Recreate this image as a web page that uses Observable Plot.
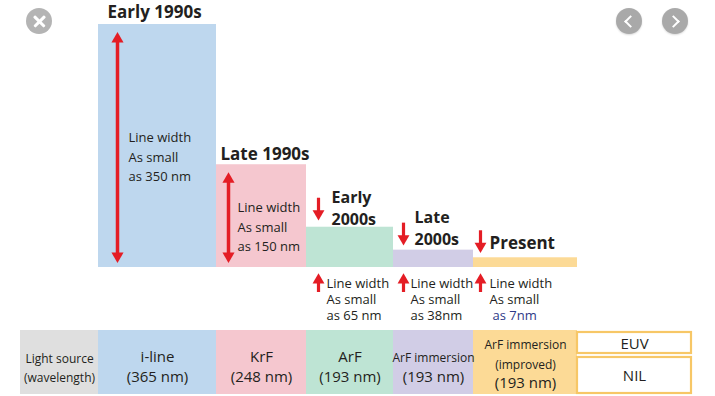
<!DOCTYPE html>
<html><head><meta charset="utf-8">
<script src="https://cdn.jsdelivr.net/npm/d3@7"></script>
<script src="https://cdn.jsdelivr.net/npm/@observablehq/plot@0.6"></script>
<style>
body{margin:0;background:#fff;}
#wrap{position:relative;width:715px;height:396px;overflow:hidden;font-family:"Open Sans",sans-serif;}
#wrap svg{display:block;}
.btn{position:absolute;width:26px;height:26px;border-radius:50%;background:#b4b4b4;}
.nav{background:#a9a9a9;box-shadow:0 1px 2px rgba(0,0,0,0.15);}
.xbar{position:absolute;left:5.5px;top:11.75px;width:15px;height:2.5px;background:#fff;border-radius:1px;}
.chev{position:absolute;width:7px;height:7px;border-top:2.5px solid #fff;border-left:2.5px solid #fff;top:8.5px;}
</style></head><body><div id="wrap"></div>
<script>
// ---- data ----
const periods = ["Early 1990s", "Late 1990s", "Early\n2000s", "Late\n2000s", "Present"];
const barHeights = [350, 148, 58, 25, 14];          // drawn bar heights (graphic units)
const sizeLabels = ["as 350 nm", "as 150 nm", "as 65 nm", "as 38nm", "as 7nm"];
const lightSources = ["i-line", "KrF", "ArF", "ArF immersion", "ArF immersion\n(improved)"];
const wavelengths = ["(365 nm)", "(248 nm)", "(193 nm)", "(193 nm)", "(193 nm)"];
const nextGen = ["EUV", "NIL"];
const headerLabel = "Light source\n(wavelength)";

// ---- layout & style ----
const W = 715, baseY = 267, topY = 24;
const pv = 350 / (baseY - topY);                     // value units per pixel
const edges = [20, 98, 216, 306, 393, 473, 577, 691];
const barColors = ["#bed7ee", "#f5c7cf", "#bee4d4", "#d1cde6", "#fcda96"];
const red = "#e41d25", ink = "#231f20", navy = "#2e3a87", gold = "#f7c766";
const titleDx = [9, 4, 25, 21, 16], titleUp = [13.5, 11.5, 20.1, 23.1, 15.5];
const textDx = [30, 21, 20, 17, 16];
const arrowDx = [19, 12, 12, 10, 7];
const downTip = [0, 0, 7, 5, 5];

const bars = periods.map((p, i) => ({
  i, period: p, value: barHeights[i], x1: edges[i + 1], x2: edges[i + 2],
  label: sizeLabels[i], fill: barColors[i]
}));
const tall = bars.slice(0, 2), short = bars.slice(2);
const oneLine = bars.filter(d => !d.period.includes("\n"));
const twoLine = bars.filter(d => d.period.includes("\n"));

const chart = Plot.plot({
  width: W, height: 330, margin: 0,
  x: {domain: [0, W], range: [0, W], axis: null},
  y: {domain: [0, 350], range: [baseY, topY], axis: null},
  color: {type: "identity"},
  style: {fontFamily: "Open Sans", background: "transparent", overflow: "visible"},
  marks: [
    Plot.rectY(bars, {x1: "x1", x2: "x2", y1: 0, y2: "value", fill: "fill"}),
    // titles
    Plot.text(oneLine, {x: d => d.x1 + titleDx[d.i], y: d => d.value + titleUp[d.i] * pv, text: "period",
      textAnchor: "start", fontSize: 17, fontWeight: "bold", lineHeight: 1.2, fill: ink}),
    Plot.text(twoLine, {x: d => d.x1 + titleDx[d.i], y: d => d.value + titleUp[d.i] * pv, text: "period",
      textAnchor: "start", fontSize: 16, fontWeight: "bold", lineHeight: 1.35, fill: ink}),
    // inside annotations
    Plot.text(tall, {x: d => d.x1 + textDx[d.i], y: d => d.value / 2 - 9.5 * pv,
      text: d => "Line width\nAs small\n" + d.label, textAnchor: "start", fontSize: 13, lineHeight: 1.5, fill: ink}),
    // below annotations
    Plot.text(short, {x: d => d.x1 + textDx[d.i], y: -23 * pv, text: () => "Line width\nAs small",
      textAnchor: "start", fontSize: 13, lineHeight: 1.27, fill: ink}),
    Plot.text(short, {x: d => d.x1 + textDx[d.i] + (d.i === 4 ? 3 : 0), y: -48.8 * pv, text: "label",
      textAnchor: "start", fontSize: 13, fill: d => d.i === 4 ? navy : ink}),
    // double arrows in tall bars
    Plot.ruleX(tall, {x: d => d.x1 + arrowDx[d.i], y1: d => d.value - 14 * pv, y2: 14 * pv, stroke: red, strokeWidth: 3.5}),
    Plot.dot(tall, {x: d => d.x1 + arrowDx[d.i], y: d => d.value - 14.5 * pv, symbol: "triangle", r: 4.5, fill: red}),
    Plot.dot(tall, {x: d => d.x1 + arrowDx[d.i], y: 11.5 * pv, symbol: "triangle", r: 4.5, fill: red, rotate: 180}),
    // down arrows above short bars
    Plot.ruleX(short, {x: d => d.x1 + arrowDx[d.i], y1: d => d.value + (downTip[d.i] + 22) * pv,
      y2: d => d.value + (downTip[d.i] + 8) * pv, stroke: red, strokeWidth: 3.2}),
    Plot.dot(short, {x: d => d.x1 + arrowDx[d.i], y: d => d.value + (downTip[d.i] + 6.5) * pv,
      symbol: "triangle", r: 4.4, fill: red, rotate: 180}),
    // up arrows below short bars
    Plot.ruleX(short, {x: d => d.x1 + arrowDx[d.i], y1: -12 * pv, y2: -25 * pv, stroke: red, strokeWidth: 3.2}),
    Plot.dot(short, {x: d => d.x1 + arrowDx[d.i], y: -12.5 * pv, symbol: "triangle", r: 4.4, fill: red})
  ]
});

// ---- table strip ----
const cols = lightSources.map((s, i) => ({
  i, name: s, wl: wavelengths[i], x1: edges[i + 1], x2: edges[i + 2], fill: barColors[i]
}));
const big = cols.filter(d => d.i < 3), small = cols.filter(d => d.i >= 3);
const nameY = [0.42, 0.42, 0.42, 0.39, 0.345], wlY = [0.734, 0.734, 0.734, 0.734, 0.83];
const cells = [{name: nextGen[0], y1: 2 / 64, y2: 23 / 64, ty: 13.5 / 64},
               {name: nextGen[1], y1: 27 / 64, y2: 63 / 64, ty: 46 / 64}];

const table = Plot.plot({
  width: W, height: 66, margin: 0,
  x: {domain: [0, W], range: [0, W], axis: null},
  y: {domain: [0, 1], range: [0, 64], axis: null},
  color: {type: "identity"},
  style: {fontFamily: "Open Sans", background: "transparent", overflow: "visible"},
  marks: [
    Plot.rect([0], {x1: edges[0], x2: edges[1], y1: 0, y2: 1, fill: "#dfdfdf"}),
    Plot.rect(cols, {x1: "x1", x2: "x2", y1: 0, y2: 1, fill: "fill"}),
    Plot.rect(cells, {x1: edges[6], x2: edges[7], y1: "y1", y2: "y2", fill: "#fff", stroke: gold, strokeWidth: 2.2}),
    Plot.text([headerLabel], {x: (edges[0] + edges[1]) / 2, y: 0.5625, text: d => d, fontSize: 12,
      letterSpacing: -0.3, lineHeight: 1.6, fill: ink}),
    Plot.text(big, {x: d => (d.x1 + d.x2) / 2, y: d => nameY[d.i], text: "name", fontSize: 15, fill: ink}),
    Plot.text(small, {x: d => (d.x1 + d.x2) / 2, y: d => nameY[d.i], text: "name", fontSize: 12,
      letterSpacing: -0.4, lineHeight: 1.67, fill: ink}),
    Plot.text(cols, {x: d => (d.x1 + d.x2) / 2, y: d => wlY[d.i], text: "wl", fontSize: 15, fill: ink}),
    Plot.text(cells, {x: (edges[6] + edges[7]) / 2, y: "ty", text: "name", fontSize: 15, fill: ink})
  ]
});

const wrap = document.getElementById("wrap");
wrap.append(chart, table);

// viewer UI buttons from the screenshot
function btn(cx, cls, inner) {
  const b = document.createElement("div");
  b.className = "btn " + cls;
  b.style.left = (cx - 13) + "px"; b.style.top = "8px";
  b.innerHTML = inner;
  wrap.append(b);
}
btn(39, "", '<div class="xbar" style="transform:rotate(45deg)"></div><div class="xbar" style="transform:rotate(-45deg)"></div>');
btn(629, "nav", '<div class="chev" style="left:10px;transform:rotate(-45deg)"></div>');
btn(675, "nav", '<div class="chev" style="left:7px;transform:rotate(135deg)"></div>');
</script>
</body></html>
